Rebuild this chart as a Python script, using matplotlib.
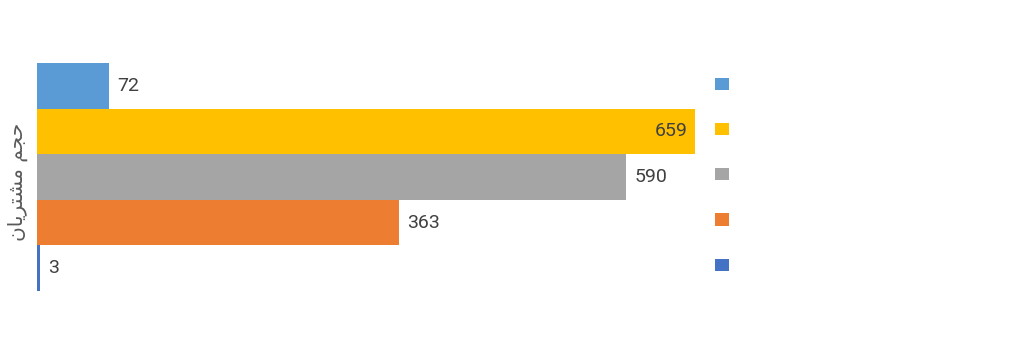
import matplotlib.pyplot as plt
from matplotlib.patches import Patch

# data (top to bottom)
values = [72, 659, 590, 363, 3]
colors = ['#5B9BD5', '#FFC000', '#A5A5A5', '#ED7D31', '#4472C4']
legend_labels = [' ', ' ', ' ', ' ', ' ']
# "حجم مشتریان" written with presentation forms in visual order
ylabel = '\uFEE5\uFE8E\uFBFE\uFEAE\uFE98\uFEB8\uFEE3 \uFEE2\uFEA0\uFEA3'

fig = plt.figure(figsize=(10.24, 3.54), dpi=100)
ax = fig.add_axes([37 / 1024, 1 - 291 / 354, 658 / 1024, 228 / 354])

pos = list(range(len(values)))[::-1]
ax.barh(pos, values, height=1.0, color=colors)
ax.set_xlim(0, max(values))
ax.set_ylim(-0.5, len(values) - 0.5)

for p, v in zip(pos, values):
    if v == max(values):
        ax.text(v - 7, p, str(v), ha='right', va='center', fontsize=14,
                color='#404040', family='Roboto')
    else:
        ax.text(v + 8, p, str(v), ha='left', va='center', fontsize=14,
                color='#404040', family='Roboto')

ax.set_xticks([])
ax.set_yticks([])
for s in ax.spines.values():
    s.set_visible(False)

fig.text(18 / 1024, 1 - 182 / 354, ylabel, rotation=90, ha='center', va='center',
         fontsize=14.5, color='#595959', family=['DejaVu Sans'])

handles = [Patch(facecolor=c) for c in colors]
fig.legend(handles, legend_labels, loc='center left',
           bbox_to_anchor=(715 / 1024, 1 - 175 / 354), frameon=False,
           fontsize=10, handlelength=1, handleheight=1, labelspacing=2.25,
           borderpad=0, borderaxespad=0, handletextpad=0.5)

fig.savefig('out.png', dpi=100)
